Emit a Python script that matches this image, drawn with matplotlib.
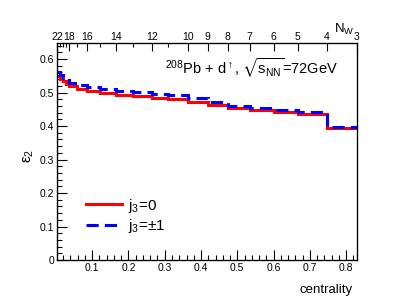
import matplotlib
matplotlib.use("Agg")
import matplotlib.pyplot as plt
from matplotlib.ticker import MultipleLocator, FixedLocator

plt.rcParams['font.family'] = ['Liberation Sans', 'DejaVu Sans']
plt.rcParams['mathtext.fontset'] = 'custom'
plt.rcParams['mathtext.rm'] = 'Liberation Sans'
plt.rcParams['mathtext.it'] = 'Liberation Sans'
plt.rcParams['mathtext.fallback'] = 'stixsans'

# Number of wounded nucleons N_w and matching centrality bin edges
nw_values = [22, 21, 20, 19, 18, 17, 16, 15, 14, 13, 12, 11, 10, 9, 8, 7, 6, 5, 4, 3]
centrality_edges = [0.003, 0.011, 0.019, 0.027, 0.037, 0.058, 0.086, 0.121, 0.167, 0.212,
                    0.264, 0.310, 0.365, 0.418, 0.474, 0.534, 0.600, 0.667, 0.747, 0.830]
nw_labelled = [22, 18, 16, 14, 12, 10, 9, 8, 7, 6, 5, 4, 3]

eps2_j0 = [0.549, 0.541, 0.534, 0.527, 0.519, 0.511, 0.504, 0.499, 0.494, 0.489,
           0.485, 0.480, 0.471, 0.463, 0.455, 0.448, 0.443, 0.436, 0.395]
eps2_j1 = [0.562, 0.551, 0.544, 0.539, 0.529, 0.522, 0.517, 0.511, 0.505, 0.501,
           0.497, 0.493, 0.483, 0.471, 0.461, 0.453, 0.448, 0.441, 0.398]

fig = plt.figure(figsize=(4.15, 3.03), dpi=100)
ax = fig.add_axes([57/415, 43/303, 300/415, 217/303])

h1 = ax.stairs(eps2_j1, centrality_edges, color='#0000ff', lw=2.2, ls=(0, (4, 2)),
               baseline=None, label=r'j$_3$=$\pm$1', zorder=3)
h0 = ax.stairs(eps2_j0, centrality_edges, color='#ff0000', lw=2.2, baseline=None,
               label='j$_3$=0', zorder=2)

ax.set_xlim(centrality_edges[0], centrality_edges[-1])
ax.set_ylim(0, 0.648)

fmt = matplotlib.ticker.FuncFormatter(lambda v, p: ('%g' % round(v, 2)))
ax.xaxis.set_major_locator(MultipleLocator(0.1))
ax.xaxis.set_minor_locator(MultipleLocator(0.02))
ax.yaxis.set_major_locator(MultipleLocator(0.1))
ax.yaxis.set_minor_locator(MultipleLocator(0.02))
ax.xaxis.set_major_formatter(fmt)
ax.yaxis.set_major_formatter(fmt)
ax.tick_params(which='both', direction='in', top=False, right=False, labelsize=7.5, pad=2)
ax.tick_params(which='major', length=7, width=0.8)
ax.tick_params(which='minor', length=3.5, width=0.8)
for s in ax.spines.values():
    s.set_linewidth(0.9)

# top axis with N_w
ax2 = ax.twiny()
ax2.set_xlim(ax.get_xlim())
pos_map = dict(zip(nw_values, centrality_edges))
ax2.xaxis.set_major_locator(FixedLocator([pos_map[n] for n in nw_labelled]))
ax2.xaxis.set_major_formatter(matplotlib.ticker.FixedFormatter([str(n) for n in nw_labelled]))
ax2.xaxis.set_minor_locator(FixedLocator([pos_map[n] for n in nw_values if n not in nw_labelled]))
ax2.tick_params(which='both', direction='in', labelsize=7.5, pad=1)
ax2.tick_params(which='major', length=6, width=0.8)
ax2.tick_params(which='minor', length=3, width=0.8)

fig.text(353/415, 1 - 290/303, 'centrality', ha='right', va='center', fontsize=9.5)
fig.text(29/415, 1 - 156/303, r'$\epsilon_2$', ha='center', va='center', fontsize=11, rotation=90)
fig.text(334/415, 1 - 29/303, r'N$_{\rm W}$', ha='left', va='center', fontsize=9.5)
fig.text(165/415, 1 - 68/303, r'$^{208}$Pb + d$^{\uparrow}$, $\sqrt{s_{\rm NN}}$=72GeV',
         ha='left', va='center', fontsize=10.5)

ax.legend(handles=[h0, h1], loc='upper left', bbox_to_anchor=(0.075, 0.32), frameon=False,
          fontsize=11, handlelength=2.4, handletextpad=0.4, labelspacing=0.15, borderaxespad=0)

fig.savefig('out.png', dpi=100)
